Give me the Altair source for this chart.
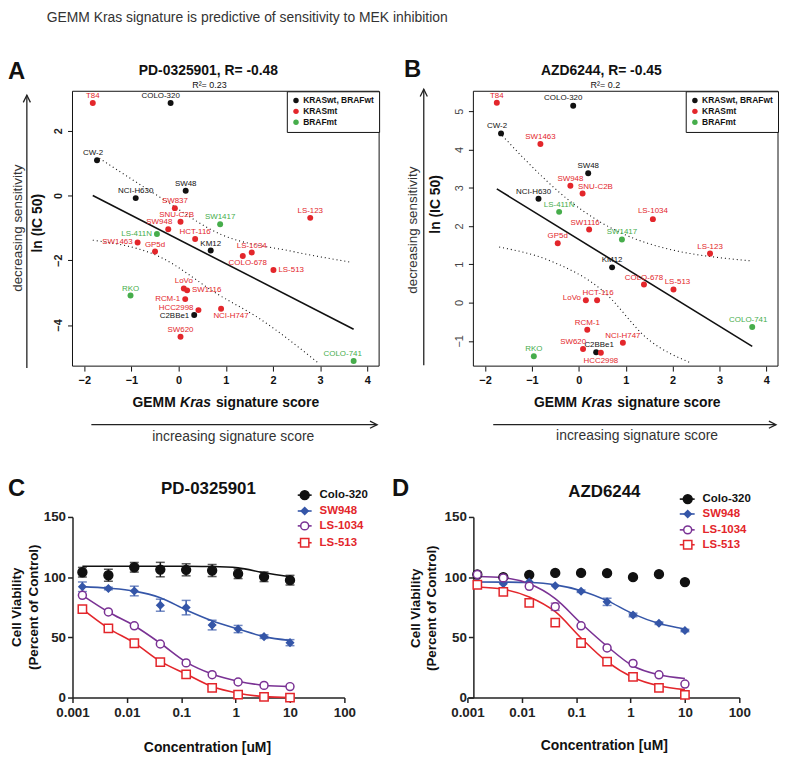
import altair as alt
import pandas as pd

FONT = "Liberation Sans"

WT, MT, BR = "KRASwt, BRAFwt", "KRASmt", "BRAFmt"
GROUPS = [WT, MT, BR]
GROUP_COLORS = ["#111111", "#e3262b", "#46ad4b"]

# ---------------- Panel A : PD-0325901 ----------------
A_names = ["T84", "COLO-320", "CW-2", "SW48", "NCI-H630", "SW837", "SNU-C2B", "SW948",
           "SW1417", "LS-411N", "HCT-116", "SW1463", "GP5d", "KM12", "LS-1034", "COLO-678",
           "LS-513", "LS-123", "LoVo", "SW1116", "RKO", "RCM-1", "HCC2998", "NCI-H747",
           "C2BBe1", "SW620", "COLO-741"]
A_score = [-1.82, -0.17, -1.73, 0.15, -0.91, -0.08, 0.04, -0.22,
           0.88, -0.46, 0.35, -0.87, -0.50, 0.68, 1.55, 1.36,
           2.01, 2.79, 0.11, 0.18, -1.02, 0.14, 0.42, 0.90,
           0.33, 0.04, 3.71]
A_lnic50 = [2.86, 2.86, 1.09, 0.15, -0.08, -0.39, -0.81, -1.04,
            -0.89, -1.19, -1.34, -1.45, -1.73, -1.70, -1.76, -1.87,
            -2.30, -0.69, -2.87, -2.93, -3.09, -3.20, -3.54, -3.50,
            -3.69, -4.36, -5.11]
A_group = [MT, WT, WT, WT, WT, MT, MT, MT,
           BR, BR, MT, MT, MT, WT, MT, MT,
           MT, MT, MT, MT, BR, MT, MT, MT,
           WT, MT, BR]
A_ci_up_x = [-1.68, -0.42, 0.91, 2.39, 3.65]
A_ci_up_y = [1.15, -0.03, -1.21, -1.72, -2.06]
A_ci_lo_x = [-1.82, -0.42, 0.84, 1.68, 2.95]
A_ci_lo_y = [-1.38, -1.88, -3.06, -3.77, -5.16]

# ---------------- Panel B : AZD6244 ----------------
B_names = ["T84", "COLO-320", "CW-2", "SW1463", "SW48", "SW948", "SNU-C2B", "NCI-H630",
           "LS-411N", "LS-1034", "SW1116", "SW1417", "GP5d", "KM12", "COLO-678", "LS-513",
           "LS-123", "COLO-741", "LoVo", "HCT-116", "RCM-1", "NCI-H747", "SW620", "C2BBe1",
           "HCC2998", "RKO"]
B_score = [-1.75, -0.12, -1.66, -0.82, 0.20, -0.18, 0.08, -0.86,
           -0.42, 1.58, 0.22, 0.92, -0.45, 0.71, 1.39, 2.02,
           2.80, 3.70, 0.15, 0.39, 0.18, 0.94, 0.09, 0.37,
           0.47, -0.96]
B_lnic50 = [5.22, 5.14, 4.42, 4.14, 3.38, 3.05, 2.85, 2.71,
            2.37, 2.18, 1.91, 1.65, 1.55, 0.92, 0.47, 0.34,
            1.28, -0.64, 0.06, 0.06, -0.71, -1.05, -1.21, -1.30,
            -1.31, -1.40]
B_group = [MT, WT, WT, MT, WT, MT, MT, WT,
           BR, MT, MT, BR, MT, WT, MT, MT,
           MT, BR, MT, MT, MT, MT, MT, WT,
           MT, BR]
B_ci_up_x = [-1.69, -1.12, -0.20, 1.21, 3.67]
B_ci_up_y = [4.44, 3.70, 2.66, 1.66, 1.09]
B_ci_lo_x = [-1.70, -0.63, 0.50, 1.49, 2.40]
B_ci_lo_y = [1.45, 1.10, 0.32, -0.97, -1.58]

# ---------------- Panels C / D : dose response ----------------
conc = [0.00152, 0.00457, 0.0137, 0.0412, 0.123, 0.370, 1.11, 3.33, 10.0]
series_names = ["Colo-320", "SW948", "LS-1034", "LS-513"]

C_vals = {
    "Colo-320": [104.1, 101.6, 108.2, 106.3, 106.1, 105.5, 102.8, 100.3, 97.5],
    "SW948": [92.0, 90.6, 88.5, 76.7, 74.7, 60.2, 56.9, 50.6, 45.6],
    "LS-1034": [84.9, 71.1, 59.6, 44.5, 28.8, 19.0, 12.9, 10.1, 9.1],
    "LS-513": [73.4, 57.4, 45.1, 29.4, 19.2, 8.0, 2.5, 0.6, 0.0],
}
C_err = {
    "Colo-320": [4, 5, 4, 6, 5, 5, 4, 4, 4],
    "SW948": [4, 1, 4, 5, 6, 4, 3, 1.5, 2.5],
    "LS-1034": [0, 0, 0, 0, 0, 0, 0, 0, 0],
    "LS-513": [0, 0, 0, 0, 0, 0, 0, 0, 0],
}
C_fit = {
    "Colo-320": [109.1, 109.1, 109.1, 109.1, 109.0, 108.8, 107.7, 103.6, 100.3],
    "SW948": [92.1, 90.8, 88.4, 82.9, 72.8, 63.8, 56.9, 50.6, 47.4],
    "LS-1034": [84.9, 71.1, 59.6, 45.1, 29.4, 19.5, 13.5, 10.2, 9.1],
    "LS-513": [73.4, 57.5, 45.4, 30.0, 19.5, 9.1, 3.6, 0.8, 0.0],
}
D_vals = {
    "Colo-320": [102.2, 100.0, 101.9, 103.5, 103.5, 103.3, 100.0, 102.5, 95.9],
    "SW948": [95.9, 94.5, 95.9, 92.9, 88.3, 79.5, 68.6, 61.7, 55.7],
    "LS-1034": [102.2, 99.4, 92.4, 75.4, 59.6, 41.2, 28.4, 18.9, 11.2],
    "LS-513": [93.7, 87.7, 78.7, 62.3, 45.3, 29.8, 17.2, 8.0, 2.2],
}
D_err = {
    "Colo-320": [0, 0, 0, 0, 0, 0, 0, 0, 0],
    "SW948": [0, 0, 0, 0, 1, 3, 1.5, 1, 1],
    "LS-1034": [0, 0, 0, 3, 0, 0, 0, 0, 0],
    "LS-513": [0, 0, 0, 0, 0, 0, 0, 0, 0],
}
D_fit = {
    "SW948": [96.0, 95.9, 95.5, 93.6, 88.8, 80.5, 69.5, 61.5, 57.0],
    "LS-1034": [100.5, 99.5, 94.5, 82.2, 61.7, 42.6, 26.2, 18.9, 15.8],
    "LS-513": [91.8, 89.9, 83.6, 71.3, 49.5, 29.8, 16.7, 9.8, 6.6],
}

# ---------------- styles (not data) ----------------
SERIES_STYLE = {
    "Colo-320": dict(color="#111111", shape="circle", size=80, open=False, lab="#111111"),
    "SW948": dict(color="#3556a8", shape="diamond", size=50, open=False, lab="#e3262b"),
    "LS-1034": dict(color="#7a3294", shape="circle", size=64, open=True, lab="#e3262b"),
    "LS-513": dict(color="#e3262b", shape="square", size=70, open=True, lab="#e3262b"),
}

A_label_pos = {
    "T84": (0, -7, "center"), "COLO-320": (-10, -7, "center"), "CW-2": (-4, -7, "center"),
    "SW48": (0, -7, "center"), "NCI-H630": (0, -7, "center"), "SW837": (0, -7, "center"),
    "SNU-C2B": (-4, -7, "center"), "SW948": (-9, -7, "center"), "SW1417": (0, -7, "center"),
    "LS-411N": (-5, 0, "right"), "HCT-116": (0, -7, "center"), "SW1463": (-5, 0, "right"),
    "GP5d": (0, -7, "center"), "KM12": (0, -7, "center"), "LS-1034": (0, -7, "center"),
    "COLO-678": (5, 7, "center"), "LS-513": (5, 0, "left"), "LS-123": (0, -7, "center"),
    "LoVo": (0, -7, "center"), "SW1116": (5, 0, "left"), "RKO": (0, -7, "center"),
    "RCM-1": (-5, 0, "right"), "HCC2998": (-5, -2, "right"), "NCI-H747": (10, 7, "center"),
    "C2BBe1": (-5, 1, "right"), "SW620": (0, -7, "center"), "COLO-741": (-11, -7, "center"),
}
B_label_pos = {
    "T84": (0, -7, "center"), "COLO-320": (-10, -8, "center"), "CW-2": (-4, -7, "center"),
    "SW1463": (0, -7, "center"), "SW48": (0, -7, "center"), "SW948": (0, -7, "center"),
    "SNU-C2B": (13, -7, "center"), "NCI-H630": (-5, -7, "center"), "LS-411N": (0, -7, "center"),
    "LS-1034": (0, -8, "center"), "SW1116": (-4, -7, "center"), "SW1417": (0, -7, "center"),
    "GP5d": (0, -7, "center"), "KM12": (0, -7, "center"), "COLO-678": (0, -7, "center"),
    "LS-513": (4, -8, "center"), "LS-123": (0, -7, "center"), "COLO-741": (-4, -7, "center"),
    "LoVo": (-5, -2, "right"), "HCT-116": (1, -7, "center"), "RCM-1": (0, -7, "center"),
    "NCI-H747": (0, -7, "center"), "SW620": (-10, -7, "center"), "C2BBe1": (3, -7, "center"),
    "HCC2998": (0, 8, "center"), "RKO": (0, -7, "center"),
}

ONE = pd.DataFrame({"k": [0]})
HEAD_UP = "M-0.6,0.6L0,-0.6L0.6,0.6"
HEAD_RIGHT = "M-0.6,-0.6L0.6,0L-0.6,0.6"


def txt(s, x, y, size, weight="normal", style="normal", angle=0, align="center",
        baseline="alphabetic", color="#111111"):
    return alt.Chart(pd.DataFrame({"t": [s]})).mark_text(
        font=FONT, fontSize=size, fontWeight=weight, fontStyle=style, angle=angle,
        align=align, baseline=baseline, color=color).encode(
        x=alt.value(x), y=alt.value(y), text="t:N")


def vrule(x, y1, y2, color="#222222", w=1.3):
    return alt.Chart(ONE).mark_rule(color=color, strokeWidth=w).encode(
        x=alt.value(x), y=alt.value(y1), y2=alt.value(y2))


def hrule(x1, x2, y, color="#222222", w=1.3):
    return alt.Chart(ONE).mark_rule(color=color, strokeWidth=w).encode(
        x=alt.value(x1), x2=alt.value(x2), y=alt.value(y))


def head(shape, x, y, size=144, color="#222222"):
    return alt.Chart(ONE).mark_point(shape=shape, filled=False, color=color, strokeWidth=1.3,
                                     size=size, opacity=1).encode(x=alt.value(x), y=alt.value(y))


def scatter_panel(names, score, lnic, group, label_pos, upx, upy, lox, loy, W, H,
                  ydom, yvals, ylab_weight, ylab_color, decor):
    df = pd.DataFrame({"name": names, "score": score, "ln": lnic, "grp": group})
    df["dx"] = [label_pos[n][0] for n in names]
    df["dy"] = [label_pos[n][1] for n in names]
    df["al"] = [label_pos[n][2] for n in names]
    xs = alt.Scale(domain=[-2.25, 4.25], nice=False, zero=False)
    ys = alt.Scale(domain=ydom, nice=False, zero=False)
    xax = alt.Axis(values=[-2, -1, 0, 1, 2, 3, 4], format="d", title=None, grid=False,
                   domain=False, tickSize=5, tickColor="#111111", tickWidth=1, labelFont=FONT,
                   labelFontSize=11, labelFontWeight="bold", labelColor="#111111",
                   labelPadding=4, labelFlush=False)
    yax = alt.Axis(values=yvals, format="d", title=None, grid=False, domain=False, tickSize=5,
                   tickColor="#111111", tickWidth=1, labelAngle=270, labelAlign="center",
                   labelBaseline="bottom", labelFont=FONT, labelFontSize=11,
                   labelFontWeight=ylab_weight, labelColor=ylab_color, labelPadding=4,
                   labelFlush=False)
    cscale = alt.Scale(domain=GROUPS, range=GROUP_COLORS)
    X = alt.X("score:Q", scale=xs, axis=xax)
    Y = alt.Y("ln:Q", scale=ys, axis=yax)
    layers = []
    for cx, cy in ((upx, upy), (lox, loy)):
        layers.append(alt.Chart(pd.DataFrame({"score": cx, "ln": cy})).mark_line(
            color="#111111", strokeDash=[1, 3], strokeWidth=1.1, interpolate="monotone",
            clip=True).encode(x=X, y=Y))
    layers.append(alt.Chart(df).transform_regression("score", "ln").mark_line(
        color="#111111", strokeWidth=1.6, clip=True).encode(x=X, y=Y))
    layers.append(alt.Chart(df).mark_circle(size=36, opacity=1).encode(
        x=X, y=Y,
        color=alt.Color("grp:N", scale=cscale, legend=alt.Legend(
            title=None, orient="top-right", offset=0, strokeColor="#111111",
            fillColor="white", padding=5, labelFont=FONT, labelFontSize=8.5,
            labelFontWeight="bold", labelColor="#111111", symbolSize=30,
            symbolType="circle", rowPadding=2, labelOffset=3, symbolStrokeWidth=0))))
    for (dx, dy, al), sub in df.groupby(["dx", "dy", "al"]):
        layers.append(alt.Chart(sub).mark_text(
            font=FONT, fontSize=8, dx=int(dx), dy=int(dy), align=al, baseline="middle").encode(
            x=X, y=Y, text="name:N",
            color=alt.Color("grp:N", scale=cscale, legend=None)))
    layers.append(alt.Chart(ONE).mark_rect(fillOpacity=0, stroke="#111111", strokeWidth=1).encode(
        x=alt.value(0), x2=alt.value(W), y=alt.value(0), y2=alt.value(H)))
    layers += decor
    return alt.layer(*layers).properties(width=W, height=H)


def dose_panel(vals, errs, fits, W, H, xrange, decor, legend_rows, lx):
    xs = alt.Scale(type="log", domain=[0.001, 100], range=xrange, nice=False)
    ys = alt.Scale(domain=[0, 150], nice=False, zero=True)
    xax = alt.Axis(values=[0.001, 0.01, 0.1, 1, 10, 100], format="~g", title=None, grid=False,
                   domainColor="#222222", domainWidth=1.5, tickColor="#222222", tickWidth=1.5,
                   tickSize=5, labelFont=FONT, labelFontSize=13.5, labelFontWeight="bold",
                   labelColor="#222222", labelPadding=3, labelFlush=False)
    yax = alt.Axis(values=[0, 50, 100, 150], title=None, grid=False, domainColor="#222222",
                   domainWidth=1.5, tickColor="#222222", tickWidth=1.5, tickSize=5,
                   labelFont=FONT, labelFontSize=13.5, labelFontWeight="bold",
                   labelColor="#222222", labelPadding=2, labelFlush=False)
    X = alt.X("c:Q", scale=xs, axis=xax)
    Y = alt.Y("v:Q", scale=ys, axis=yax)
    layers = []
    for s in series_names:
        st = SERIES_STYLE[s]
        e = pd.DataFrame({"c": conc, "v": vals[s], "err": errs[s]})
        e = e[e["err"] > 0].copy()
        if len(e):
            e["lo"] = e["v"] - e["err"]
            e["hi"] = e["v"] + e["err"]
            layers.append(alt.Chart(e).mark_rule(color=st["color"], strokeWidth=1.5).encode(
                x=X, y=alt.Y("lo:Q", scale=ys, axis=yax), y2="hi:Q"))
            for col in ("lo", "hi"):
                layers.append(alt.Chart(e).mark_tick(
                    color=st["color"], orient="horizontal", size=9, thickness=1.5).encode(
                    x=X, y=alt.Y(col + ":Q", scale=ys, axis=yax)))
    for s in series_names:
        if s in fits:
            st = SERIES_STYLE[s]
            layers.append(alt.Chart(pd.DataFrame({"c": conc, "v": fits[s]})).mark_line(
                color=st["color"], strokeWidth=1.6, interpolate="monotone").encode(x=X, y=Y))
    for s in series_names:
        st = SERIES_STYLE[s]
        d = pd.DataFrame({"c": conc, "v": vals[s]})
        fill = "white" if st["open"] else st["color"]
        layers.append(alt.Chart(d).mark_point(
            shape=st["shape"], size=st["size"], filled=True, fill=fill, stroke=st["color"],
            strokeWidth=1.5, opacity=1).encode(x=X, y=Y))
    # legend
    lx1, lx2, mx, tx = lx
    for s, ry in zip(series_names, legend_rows):
        st = SERIES_STYLE[s]
        fill = "white" if st["open"] else st["color"]
        layers.append(hrule(lx1, lx2, ry, color=st["color"], w=1.6))
        layers.append(alt.Chart(ONE).mark_point(
            shape=st["shape"], size=st["size"], filled=True, fill=fill, stroke=st["color"],
            strokeWidth=1.5, opacity=1).encode(x=alt.value(mx), y=alt.value(ry)))
        layers.append(txt(s, tx, ry, 11.5, weight="bold", align="left", baseline="middle",
                          color=st["lab"]))
    layers += decor
    return alt.layer(*layers).properties(width=W, height=H)


# ---------------- decorations ----------------
WA, WB, H1 = 309, 307, 277
decor_A = [
    txt("GEMM Kras signature is predictive of sensitivity to MEK inhibition", -26, -70, 14,
        align="left", color="#333333"),
    txt("A", -65, -12, 24, weight="bold", align="left"),
    txt("PD-0325901, R= -0.48", 137, -16, 14, weight="bold"),
    txt("R\u00b2= 0.23", 138, -3, 9),
    txt("ln (IC 50)", -35, 133, 14, weight="bold", angle=270, baseline="middle"),
    txt("decreasing sensitivity", -55, 138, 13.5, angle=270, baseline="middle",
        color="#333333"),
    vrule(-46, 4, 279), head(HEAD_UP, -46, 7.6),
    txt("GEMM", 104, 318, 14, weight="bold", align="right"),
    txt("Kras", 124, 318, 14, weight="bold", style="italic"),
    txt("signature score", 144.5, 318, 14, weight="bold", align="left"),
    hrule(19, 307, 336), head(HEAD_RIGHT, 303.4, 336),
    txt("increasing signature score", 162, 352, 14, color="#333333"),
]
decor_B = [
    txt("B", -70, -14, 24, weight="bold", align="left"),
    txt("AZD6244, R= -0.45", 129, -16, 14, weight="bold"),
    txt("R\u00b2= 0.2", 133, -3, 9),
    txt("ln (IC 50)", -38, 114, 14, weight="bold", angle=270, baseline="middle"),
    txt("decreasing sensitivity", -61, 140, 13.5, angle=270, baseline="middle",
        color="#333333"),
    vrule(-50, -2, 276), head(HEAD_UP, -50, 1.6),
    txt("GEMM", 104.5, 318, 14, weight="bold", align="right"),
    txt("Kras", 124.5, 318, 14, weight="bold", style="italic"),
    txt("signature score", 145, 318, 14, weight="bold", align="left"),
    hrule(20, 305, 336), head(HEAD_RIGHT, 301.4, 336),
    txt("increasing signature score", 165, 351, 14, color="#333333"),
]

WC, WD, H2 = 309, 307, 182
decor_C = [
    txt("C", -65, -21, 24, weight="bold", align="left"),
    txt("PD-0325901", 137, -23, 17, weight="bold"),
    txt("Cell Viability", -56, 91, 13.5, weight="bold", angle=270, baseline="middle"),
    txt("(Percent of Control)", -39, 91, 13.5, weight="bold", angle=270, baseline="middle"),
    txt("Concentration [uM]", 136, 237, 14, weight="bold"),
]
decor_D = [
    txt("D", -82, -21, 24, weight="bold", align="left"),
    txt("AZD6244", 132, -20, 17, weight="bold"),
    txt("Cell Viability", -58, 92, 13.5, weight="bold", angle=270, baseline="middle"),
    txt("(Percent of Control)", -42, 92, 13.5, weight="bold", angle=270, baseline="middle"),
    txt("Concentration [uM]", 132, 235, 14, weight="bold"),
]

pA = scatter_panel(A_names, A_score, A_lnic50, A_group, A_label_pos, A_ci_up_x, A_ci_up_y,
                   A_ci_lo_x, A_ci_lo_y, WA, H1, [-5.27, 3.22], [-4, -2, 0, 2], "bold",
                   "#222222", decor_A)
pB = scatter_panel(B_names, B_score, B_lnic50, B_group, B_label_pos, B_ci_up_x, B_ci_up_y,
                   B_ci_lo_x, B_ci_lo_y, WB, H1, [-1.66, 5.52], [-1, 0, 1, 2, 3, 4, 5],
                   "normal", "#444444", decor_B)
pC = dose_panel(C_vals, C_err, C_fit, WC, H2, [0, 274], decor_C, [-22, -6, 9, 26],
                (227, 241, 234, 249))
pD = dose_panel(D_vals, D_err, D_fit, WD, H2, [-6, 268], decor_D, [-18, -3, 13, 28],
                (208, 223, 216, 231))

chart = alt.concat(pA, pB, pC, pD, columns=2, spacing={"row": 152, "column": 95},
                   bounds="flush", align="all").resolve_scale(
    color="independent").properties(padding=0, background="white").configure_view(
    strokeWidth=0)

chart.save("out.html", embed_options={"renderer": "svg", "actions": False})
